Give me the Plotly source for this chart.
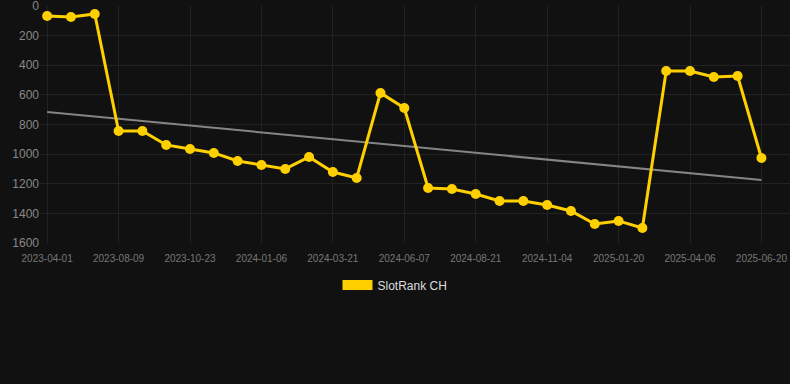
import plotly.graph_objects as go

dates = [
    "2023-04-01", "2023-05-15", "2023-06-28", "2023-08-09", "2023-09-03", "2023-09-28",
    "2023-10-23", "2023-11-17", "2023-12-12", "2024-01-06", "2024-01-31", "2024-02-25",
    "2024-03-21", "2024-04-16", "2024-05-12", "2024-06-07", "2024-07-02", "2024-07-27",
    "2024-08-21", "2024-09-15", "2024-10-10", "2024-11-04", "2024-11-29", "2024-12-25",
    "2025-01-20", "2025-02-14", "2025-03-12", "2025-04-06", "2025-05-01", "2025-05-26",
    "2025-06-20",
]
ranks = [
    67, 74, 54, 844, 844, 938,
    965, 992, 1046, 1073, 1100, 1019,
    1121, 1161, 587, 689, 1229, 1235,
    1269, 1316, 1316, 1343, 1384, 1472,
    1451, 1499, 439, 439, 479, 473,
    1026,
]
trend_dates = ["2023-04-01", "2025-06-20"]
trend_values = [715, 1175]
tick_labels = dates[::3]
y_ticks = [0, 200, 400, 600, 800, 1000, 1200, 1400, 1600]

GOLD = "#FFD000"
fig = go.Figure()
fig.add_trace(go.Scatter(
    x=trend_dates, y=trend_values, mode="lines",
    line=dict(color="#858585", width=2), showlegend=False, hoverinfo="skip",
))
fig.add_trace(go.Scatter(
    x=dates, y=ranks, mode="lines+markers", name="SlotRank CH",
    line=dict(color=GOLD, width=3), marker=dict(color=GOLD, size=10),
    showlegend=False,
))
fig.add_trace(go.Scatter(
    x=[None], y=[None], mode="lines", name="SlotRank CH",
    line=dict(color=GOLD, width=12),
))

fig.update_layout(
    width=790, height=384,
    paper_bgcolor="#111111", plot_bgcolor="#111111",
    margin=dict(l=40, r=0, t=6, b=141),
    font=dict(family="Liberation Sans, Arial, sans-serif", color="#888888"),
    showlegend=True,
    legend=dict(
        orientation="h", xref="container", yref="container",
        x=0.5, xanchor="center", y=1 - 285 / 384, yanchor="middle",
        font=dict(size=12, color="#dddddd"), bgcolor="rgba(0,0,0,0)",
    ),
    xaxis=dict(
        type="category", categoryorder="array", categoryarray=dates,
        range=[-0.3, 31.2], tickvals=tick_labels, ticktext=tick_labels,
        showgrid=True, gridcolor="#222222", gridwidth=1,
        zeroline=False, showline=False, ticks="",
        ticklabelstandoff=8, ticklabeloverflow="allow",
        tickfont=dict(size=10, color="#777777"),
    ),
    yaxis=dict(
        range=[1600, 0], tickvals=y_ticks,
        showgrid=True, gridcolor="#222222", gridwidth=1,
        zeroline=False, showline=False, ticks="",
        ticklabeloverflow="allow",
        tickfont=dict(size=12, color="#888888"),
    ),
)
fig.write_html(
    "out.html",
    config={"displayModeBar": False},
    post_script="document.body.style.margin='0';document.body.style.background='#111111';",
)
